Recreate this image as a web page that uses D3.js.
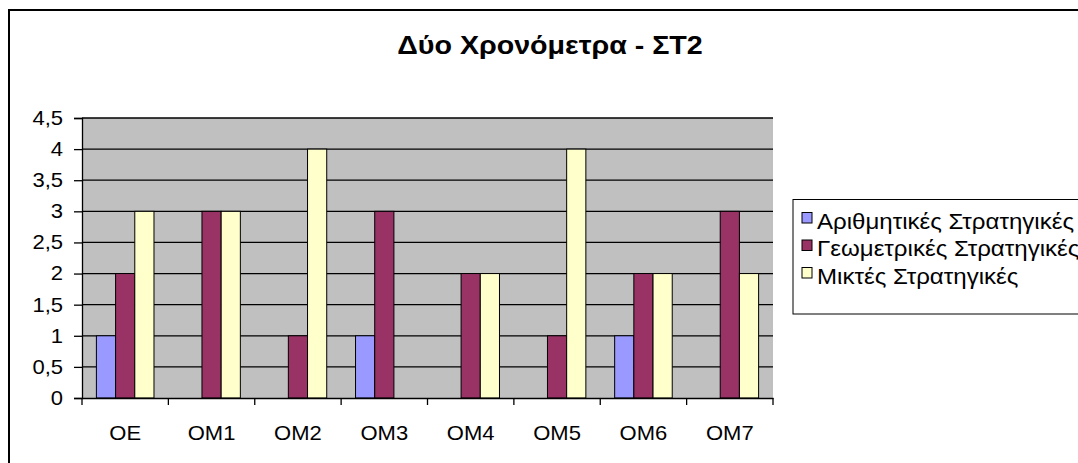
<!DOCTYPE html>
<html>
<head>
<meta charset="utf-8">
<script src="https://cdn.jsdelivr.net/npm/d3@7"></script>
<style>
  html, body { margin: 0; padding: 0; background: #fff; overflow: hidden; }
  svg { display: block; font-family: "Liberation Sans", Arial, sans-serif; }
</style>
</head>
<body>
<svg id="chart" width="1078" height="463"></svg>
<script>
// Chart data
const categories = ["ΟΕ", "ΟΜ1", "ΟΜ2", "ΟΜ3", "ΟΜ4", "ΟΜ5", "ΟΜ6", "ΟΜ7"];
const seriesNames = ["Αριθμητικές Στρατηγικές", "Γεωμετρικές Στρατηγικές", "Μικτές Στρατηγικές"];
const arithmetic = [1, 0, 0, 1, 0, 0, 1, 0];
const geometric  = [2, 3, 1, 3, 2, 1, 2, 3];
const mixed      = [3, 3, 4, 0, 2, 4, 2, 2];
const yTicks = [0, 0.5, 1, 1.5, 2, 2.5, 3, 3.5, 4, 4.5];
const colors = ["#9999FF", "#993366", "#FFFFCC"];
const title = "Δύο Χρονόμετρα - ΣΤ2";

const seriesValues = [arithmetic, geometric, mixed];
const FONT = "'Liberation Sans', Arial, sans-serif";
const SX = 1.1; // slightly wide lettering

const svg = d3.select("#chart");

// Outer chart frame
svg.append("rect")
  .attr("x", 9).attr("y", 10)
  .attr("width", 1100).attr("height", 500)
  .attr("fill", "#fff").attr("stroke", "#000").attr("stroke-width", 2);

const plot = { left: 82, right: 773, top: 118, bottom: 398 };

const x = d3.scaleBand().domain(categories).range([plot.left, plot.right]);
// Gap width of 150%: each bar is band / (3 + 1.5)
const barW = x.bandwidth() / (seriesValues.length + 1.5);
const x1 = d3.scaleBand().domain(d3.range(seriesValues.length))
  .range([0, barW * seriesValues.length]);
const groupOffset = (x.bandwidth() - barW * seriesValues.length) / 2;

const y = d3.scaleLinear().domain([0, 4.5]).range([plot.bottom, plot.top]);

// Plot background
svg.append("rect")
  .attr("x", plot.left).attr("y", plot.top)
  .attr("width", plot.right - plot.left).attr("height", plot.bottom - plot.top)
  .attr("fill", "#C0C0C0");

// Horizontal gridlines
svg.append("g").selectAll("line")
  .data(yTicks.filter(t => t > 0))
  .join("line")
  .attr("x1", plot.left).attr("x2", plot.right)
  .attr("y1", d => y(d)).attr("y2", d => y(d))
  .attr("stroke", "#000").attr("stroke-width", 1.3);

// Bars
const rows = [];
categories.forEach((c, i) => {
  seriesValues.forEach((vals, s) => {
    rows.push({ cat: c, s, v: vals[i] });
  });
});

svg.append("g").selectAll("rect")
  .data(rows.filter(d => d.v > 0))
  .join("rect")
  .attr("x", d => x(d.cat) + groupOffset + x1(d.s))
  .attr("y", d => y(d.v))
  .attr("width", x1.bandwidth())
  .attr("height", d => y(0) - y(d.v))
  .attr("fill", d => colors[d.s])
  .attr("stroke", "#000").attr("stroke-width", 1);

// Y axis
const yAxis = svg.append("g")
  .attr("transform", `translate(${plot.left},0)`)
  .call(d3.axisLeft(y).tickValues(yTicks).tickSize(8).tickPadding(11)
    .tickFormat(d => String(d).replace(".", ",")));
yAxis.select(".domain").attr("stroke", "#000").attr("stroke-width", 1.3);
yAxis.selectAll(".tick line").attr("stroke", "#000").attr("stroke-width", 1.3);
yAxis.selectAll("text")
  .attr("font-size", 20).attr("fill", "#000").attr("font-family", FONT)
  .attr("x", -19 / SX)
  .attr("transform", `scale(${SX},1)`);

// X axis
const xAxis = svg.append("g")
  .attr("transform", `translate(0,${plot.bottom})`)
  .call(d3.axisBottom(x).tickSize(0).tickPadding(0));
xAxis.select(".domain").attr("stroke", "#000").attr("stroke-width", 1.3);
xAxis.selectAll("text")
  .attr("font-size", 20).attr("fill", "#000").attr("font-family", FONT)
  .attr("y", 42).attr("dy", null)
  .attr("transform", `scale(${SX},1)`);
// Category boundary tick marks
const bounds = categories.map(c => x(c)).concat([plot.right]);
svg.append("g").selectAll("line")
  .data(bounds)
  .join("line")
  .attr("x1", d => d).attr("x2", d => d)
  .attr("y1", plot.bottom).attr("y2", plot.bottom + 7)
  .attr("stroke", "#000").attr("stroke-width", 1.3);

// Helper for horizontally widened text anchored at (tx, ty)
function wideText(parent, tx, ty, str, size, sx, opts = {}) {
  const g = parent.append("g").attr("transform", `translate(${tx},${ty}) scale(${sx},1)`);
  return g.append("text")
    .attr("x", 0).attr("y", 0)
    .attr("font-size", size)
    .attr("font-family", FONT)
    .attr("font-weight", opts.bold ? "bold" : "normal")
    .attr("text-anchor", opts.anchor || "start")
    .attr("fill", "#000")
    .text(str);
}

// Title
wideText(svg, 550, 54, title, 26.5, 1.08, { bold: true, anchor: "middle" });

// Legend
const legend = svg.append("g");
legend.append("rect")
  .attr("x", 793).attr("y", 199.5)
  .attr("width", 400).attr("height", 114.5)
  .attr("fill", "#fff").attr("stroke", "#000").attr("stroke-width", 1);
seriesNames.forEach((name, i) => {
  const cy = 218 + i * 27.5;
  legend.append("rect")
    .attr("x", 802).attr("y", cy - 5.5)
    .attr("width", 10).attr("height", 10.5)
    .attr("fill", colors[i]).attr("stroke", "#000").attr("stroke-width", 1);
  wideText(legend, 817, cy + 10.5, name, 21.5, 1.12);
});
</script>
</body>
</html>
